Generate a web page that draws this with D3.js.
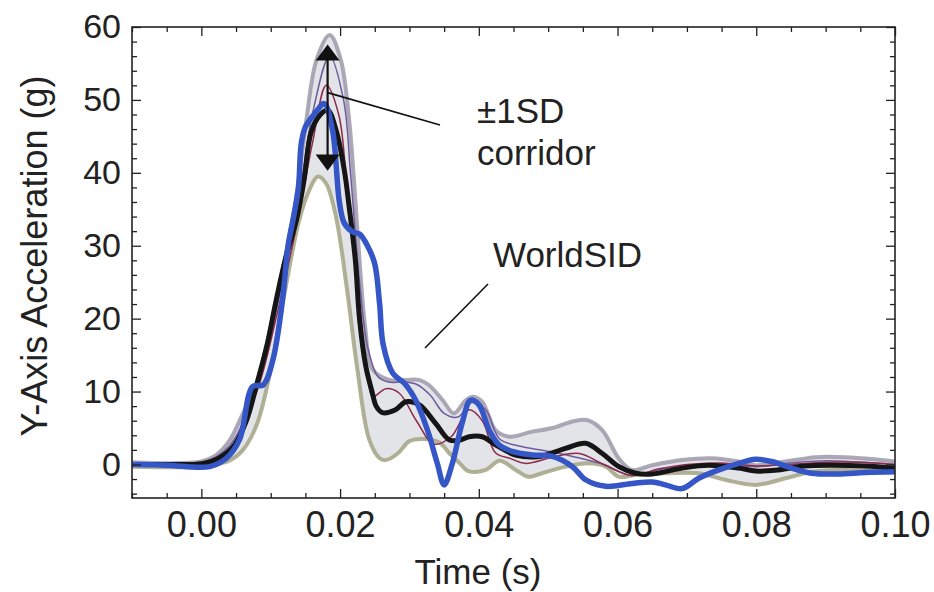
<!DOCTYPE html>
<html>
<head>
<meta charset="utf-8">
<script src="https://cdn.jsdelivr.net/npm/d3@7"></script>
<style>
  body { margin: 0; background: #fff; }
  svg { display: block; }
  text { font-family: "Liberation Sans", Arial, sans-serif; fill: #222; }
</style>
</head>
<body>
<div id="chart"></div>
<script>
// values (time in s, acceleration in g)
const meanTime = [-0.01, -0.005, 0.0, 0.0026, 0.0048, 0.0065, 0.0079, 0.0095, 0.0108, 0.0122, 0.0137, 0.0148, 0.0158, 0.017, 0.0182, 0.0194, 0.0206, 0.0213, 0.0222, 0.0228, 0.0237, 0.0246, 0.0252, 0.0261, 0.028, 0.0295, 0.0314, 0.0338, 0.0357, 0.0372, 0.0386, 0.0405, 0.0424, 0.0453, 0.0487, 0.0525, 0.0554, 0.0578, 0.0602, 0.0626, 0.065, 0.0693, 0.0731, 0.0775, 0.0799, 0.0827, 0.087, 0.0909, 0.0957, 0.10]
const meanAcc  = [0, 0, 0.1, 0.9, 2.7, 6, 10.7, 16.5, 22.6, 28.5, 33.5, 39, 45.5, 47.8, 48.6, 45.9, 40.4, 35.4, 28, 20, 13.5, 10, 8, 7.1, 7.5, 8.6, 8.2, 5.6, 3.4, 3.3, 3.8, 3.8, 2.7, 1.3, 1.1, 2.2, 2.9, 1.5, -0.3, -1.2, -1.3, -0.5, -0.1, -0.5, -0.9, -0.8, -0.2, -0.1, -0.2, -0.5]

const wsidTime = [-0.01, -0.005, 0.0012, 0.0036, 0.0055, 0.0074, 0.0089, 0.0103, 0.0117, 0.0125, 0.0133, 0.014, 0.0144, 0.015, 0.0165, 0.0177, 0.0189, 0.0199, 0.0206, 0.0218, 0.0228, 0.024, 0.025, 0.0257, 0.0262, 0.0276, 0.0293, 0.0309, 0.0326, 0.034, 0.035, 0.0362, 0.0376, 0.0388, 0.04, 0.0415, 0.0429, 0.0448, 0.0477, 0.0506, 0.0535, 0.0554, 0.0583, 0.0621, 0.065, 0.0669, 0.0693, 0.0717, 0.0746, 0.0775, 0.0799, 0.0822, 0.0851, 0.088, 0.0918, 0.0957, 0.10]
const wsidAcc  = [0, -0.1, -0.3, 0.85, 3.4, 10.7, 10.9, 14.3, 22.6, 30, 34, 38, 44, 46.3, 48.3, 49.5, 45.9, 36, 33.1, 31.9, 31.6, 29.9, 27.5, 22, 16.5, 12.5, 11.1, 8.8, 4.7, 0.2, -2.8, 0.2, 5.7, 8.8, 8.2, 4.7, 2.7, 1.8, 1.3, 1.1, -0.3, -2.1, -3.0, -2.6, -2.4, -2.8, -3.3, -1.9, -0.75, 0.15, 0.7, 0.4, -0.5, -1.2, -1.3, -1.1, -1.0]

const upperTime = [-0.01, 0.0, 0.002, 0.004, 0.006, 0.008, 0.010, 0.012, 0.0135, 0.0151, 0.0166, 0.0185, 0.0201, 0.0213, 0.022, 0.0228, 0.0236, 0.0247, 0.0271, 0.0295, 0.0314, 0.0328, 0.0348, 0.0364, 0.0381, 0.0391, 0.0405, 0.0424, 0.0444, 0.0477, 0.0506, 0.0535, 0.0556, 0.0578, 0.0602, 0.0621, 0.065, 0.0693, 0.0736, 0.0775, 0.0799, 0.0842, 0.0885, 0.0928, 0.0971, 0.10]
const upperAcc  = [0.3, 0.4, 1.2, 3.2, 7, 11, 19, 28, 35.5, 47, 55.5, 58.9, 55.5, 47.3, 39, 28, 19, 13, 11.6, 11.6, 11.6, 10.9, 8.8, 7.0, 8.8, 9.3, 8.6, 4.7, 3.8, 4.5, 5.0, 5.9, 6.1, 4.7, 0.8, -0.75, -0.1, 0.6, 0.85, 0.4, -0.1, 0.4, 1.0, 1.0, 0.7, 0.4]

const lowerTime = [-0.01, 0.0, 0.002, 0.004, 0.006, 0.008, 0.010, 0.012, 0.0141, 0.0155, 0.0168, 0.018, 0.0194, 0.021, 0.0225, 0.0242, 0.0257, 0.0266, 0.0283, 0.030, 0.032, 0.0343, 0.0358, 0.0372, 0.0385, 0.041, 0.043, 0.0453, 0.0472, 0.0491, 0.0525, 0.0559, 0.0583, 0.0602, 0.0626, 0.0669, 0.0717, 0.0755, 0.0799, 0.0842, 0.088, 0.0918, 0.0966, 0.10]
const lowerAcc  = [-0.3, -0.3, 0, 0.5, 2, 5.5, 13, 23.5, 33.5, 37.5, 39.5, 38.5, 34, 24, 13, 3.4, 0.85, 0.6, 1.5, 3.2, 3.5, 3.0, 1.5, 0.2, -0.9, -0.75, 0.5, -0.75, -1.7, -1.2, -0.3, 0.15, -0.3, -1.7, -1.4, -1.2, -1.2, -2.1, -2.8, -1.9, -1.0, -0.75, -0.85, -1.0]

// two of the thin single-test traces inside the corridor
const purpleTime = [-0.01, 0.0, 0.004, 0.008, 0.011, 0.014, 0.016, 0.0185, 0.0205, 0.0215, 0.0228, 0.024, 0.0255, 0.027, 0.029, 0.031, 0.033, 0.035, 0.037, 0.039, 0.041, 0.043, 0.046, 0.05, 0.054, 0.058, 0.062, 0.066, 0.07, 0.075, 0.08, 0.085, 0.09, 0.095, 0.10]
const purpleAcc  = [0, 0.2, 2.5, 11, 22, 36, 48, 56, 50, 40, 25, 16, 12, 11.3, 11.3, 11, 9.5, 7, 6.5, 8.5, 7.5, 3.5, 2.5, 1.8, 1.0, 0.0, -1.5, -0.7, -0.2, 0.0, -0.3, 0.2, 0.5, 0.3, 0.0]
const redTime = [-0.01, 0.0, 0.004, 0.008, 0.011, 0.014, 0.016, 0.018, 0.0198, 0.021, 0.0228, 0.024, 0.0247, 0.0266, 0.0285, 0.031, 0.0335, 0.036, 0.0386, 0.0405, 0.0424, 0.0446, 0.0467, 0.051, 0.0545, 0.058, 0.062, 0.066, 0.07, 0.075, 0.08, 0.085, 0.09, 0.095, 0.10]
const redAcc  = [0, 0.1, 2, 10, 21, 34, 44, 52, 48, 38, 22, 12, 9.3, 10.4, 9.8, 6.0, 2.8, 3.8, 7.5, 6.0, 1.6, 0.8, 0.15, 1.1, 1.5, 0.0, -1.5, -0.6, 0.0, 0.2, -0.2, 0.0, 0.3, 0.3, 0.0]

const xMajor = [0.0, 0.02, 0.04, 0.06, 0.08, 0.10]
const yMajor = [0, 10, 20, 30, 40, 50, 60]

const svgWidth = 934, svgHeight = 592
const plot = { left: 132, right: 895, top: 27, bottom: 498 }

let svg = d3.select("#chart").append("svg")
	.attr("width", svgWidth)
	.attr("height", svgHeight)

var x = d3.scaleLinear().domain([-0.01, 0.10]).range([plot.left, plot.right])
var y = d3.scaleLinear().domain([-4.6, 60]).range([plot.bottom, plot.top])

const pts = (ts, vs) => ts.map((t, i) => [t, vs[i]])
const line = d3.line().x(d => x(d[0])).y(d => y(d[1])).curve(d3.curveCatmullRom)

svg.append("clipPath").attr("id", "clip")
	.append("rect")
	.attr("x", plot.left).attr("y", plot.top)
	.attr("width", plot.right - plot.left).attr("height", plot.bottom - plot.top)

let g = svg.append("g").attr("clip-path", "url(#clip)")

// corridor fill: upper edge forward, lower edge back
const upperPts = pts(upperTime, upperAcc)
const lowerPts = pts(lowerTime, lowerAcc)
g.append("path")
	.attr("d", line(upperPts) + "L" + line(lowerPts.slice().reverse()).slice(1) + "Z")
	.attr("fill", "#e3e4e8")
	.attr("stroke", "none")

g.append("path").datum(upperPts)
	.attr("d", line).attr("fill", "none")
	.attr("stroke", "#9d99aa").attr("stroke-width", 4).attr("opacity", 0.85)
g.append("path").datum(lowerPts)
	.attr("d", line).attr("fill", "none")
	.attr("stroke", "#a3a384").attr("stroke-width", 4).attr("opacity", 0.85)

g.append("path").datum(pts(purpleTime, purpleAcc))
	.attr("d", line).attr("fill", "none")
	.attr("stroke", "#6e5c9e").attr("stroke-width", 1.5)
g.append("path").datum(pts(redTime, redAcc))
	.attr("d", line).attr("fill", "none")
	.attr("stroke", "#8e2a4c").attr("stroke-width", 1.5)

// mean
g.append("path").datum(pts(meanTime, meanAcc))
	.attr("d", line).attr("fill", "none")
	.attr("stroke", "#151515").attr("stroke-width", 5)
	.attr("stroke-linejoin", "round")

// WorldSID
g.append("path").datum(pts(wsidTime, wsidAcc))
	.attr("d", line).attr("fill", "none")
	.attr("stroke", "#3556c6").attr("stroke-width", 5.5)
	.attr("stroke-linejoin", "round")

// ±1SD arrow
const arrowT = 0.0182
svg.append("line")
	.attr("x1", x(arrowT)).attr("x2", x(arrowT))
	.attr("y1", y(56)).attr("y2", y(41.5))
	.attr("stroke", "#111").attr("stroke-width", 2.2)
svg.append("path")
	.attr("d", `M${x(arrowT)},${y(57.6)} L${x(arrowT) - 12},${y(55.4)} L${x(arrowT) + 12},${y(55.4)} Z`)
	.attr("fill", "#111")
svg.append("path")
	.attr("d", `M${x(arrowT)},${y(40.3)} L${x(arrowT) - 12},${y(42.5)} L${x(arrowT) + 12},${y(42.5)} Z`)
	.attr("fill", "#111")
svg.append("line")
	.attr("x1", x(arrowT)).attr("y1", y(51))
	.attr("x2", 440).attr("y2", 125)
	.attr("stroke", "#111").attr("stroke-width", 1.6)
svg.append("line")
	.attr("x1", 425).attr("y1", 348)
	.attr("x2", 488).attr("y2", 284)
	.attr("stroke", "#111").attr("stroke-width", 1.6)

svg.append("text").attr("x", 477).attr("y", 123).attr("font-size", "35px").text("±1SD")
svg.append("text").attr("x", 477).attr("y", 165).attr("font-size", "35px").text("corridor")
svg.append("text").attr("x", 493).attr("y", 267).attr("font-size", "35px").text("WorldSID")

// ticks on all four sides, pointing inward
const xMinor = d3.range(-0.01, 0.1001, 0.005).filter(t => !xMajor.some(m => Math.abs(m - t) < 1e-6))
const yMinor = d3.range(-4, 60.01, 2).filter(v => v % 10 !== 0)

function tickAxis(axisFn, scale, values, size, transform, labels, fmt, pad) {
	let a = axisFn(scale).tickValues(values).tickSize(-size)
		.tickFormat(labels ? fmt : "").tickPadding(pad || 3)
	let ag = svg.append("g").attr("transform", transform).call(a)
	ag.select(".domain").remove()
	ag.selectAll("line").attr("stroke", "#222").attr("stroke-width", 1.3)
	return ag
}
let xb = tickAxis(d3.axisBottom, x, xMajor, 9, `translate(0,${plot.bottom})`, true, d3.format(".2f"), 13)
xb.selectAll("text").attr("font-size", "36px").attr("fill", "#222")
	.attr("font-family", "Liberation Sans, Arial, sans-serif")
tickAxis(d3.axisBottom, x, xMinor, 5, `translate(0,${plot.bottom})`, false)
tickAxis(d3.axisTop, x, xMajor, 9, `translate(0,${plot.top})`, false)
tickAxis(d3.axisTop, x, xMinor, 5, `translate(0,${plot.top})`, false)

let yl = tickAxis(d3.axisLeft, y, yMajor, 9, `translate(${plot.left},0)`, true, d3.format("d"), 11)
yl.selectAll("text").attr("font-size", "34px").attr("fill", "#222")
	.attr("font-family", "Liberation Sans, Arial, sans-serif")
tickAxis(d3.axisLeft, y, yMinor, 5, `translate(${plot.left},0)`, false)
tickAxis(d3.axisRight, y, yMajor, 9, `translate(${plot.right},0)`, false)
tickAxis(d3.axisRight, y, yMinor, 5, `translate(${plot.right},0)`, false)

svg.append("rect")
	.attr("x", plot.left).attr("y", plot.top)
	.attr("width", plot.right - plot.left).attr("height", plot.bottom - plot.top)
	.attr("fill", "none").attr("stroke", "#222").attr("stroke-width", 1.6)

// axis titles
svg.append("text")
	.attr("x", 478).attr("y", 584)
	.attr("text-anchor", "middle").attr("font-size", "35px")
	.text("Time (s)")
svg.append("text")
	.attr("transform", "rotate(-90)")
	.attr("x", -256).attr("y", 47)
	.attr("text-anchor", "middle").attr("font-size", "36px")
	.text("Y-Axis Acceleration (g)")
</script>
</body>
</html>
